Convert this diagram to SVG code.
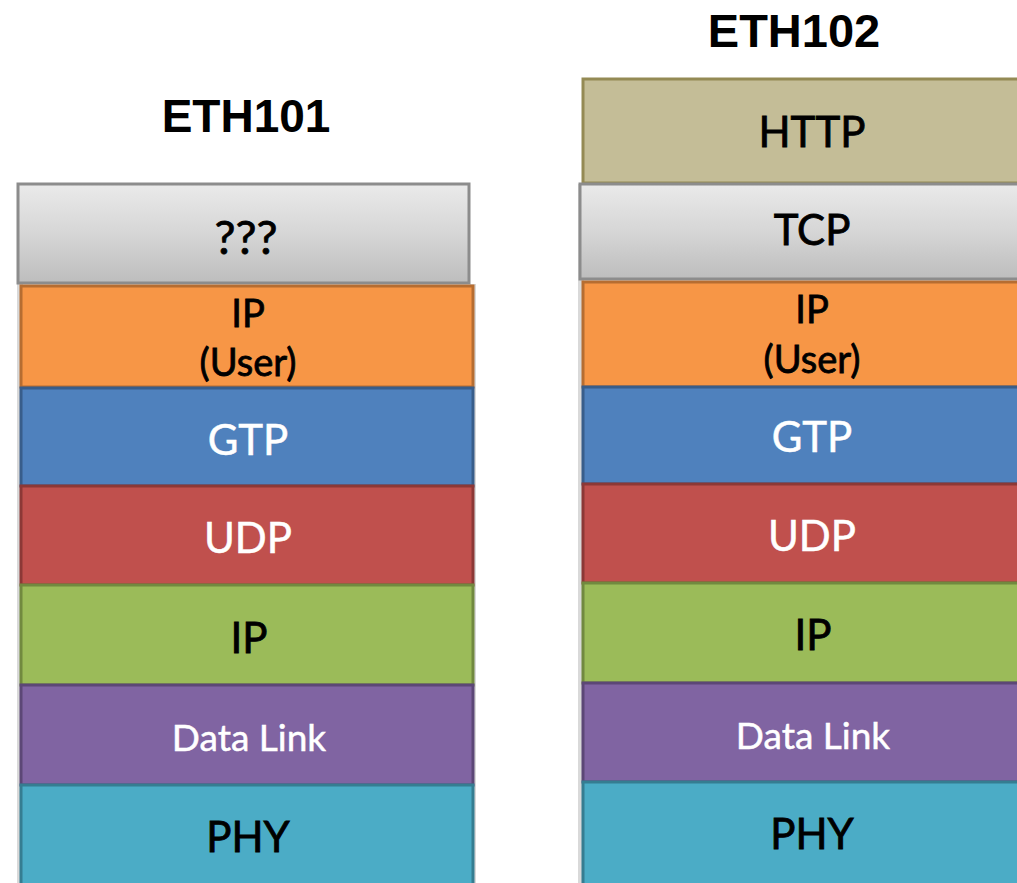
<svg xmlns="http://www.w3.org/2000/svg" width="1017" height="883" viewBox="0 0 1017 883">
  <style>
    .title { font-family: "Liberation Sans", Arial, sans-serif; font-weight: bold; font-size: 46px; fill: #000; text-anchor: middle; }
    .lbl { font-family: Lato, "Open Sans", sans-serif; font-size: 42px; text-anchor: middle; stroke-width: 0.8; }
    .sm { font-size: 38px; }
    .dl { font-size: 37px; }
    .q { font-size: 47px; }
    .dark { fill: #000; stroke: #000; }
    .light { fill: #fff; stroke: #fff; stroke-width: 0.5; }
    .layer { stroke-width: 3; }
    .gray { fill: url(#grayGrad); stroke: #8c8c8c; }
    .http { fill: #C4BD97; stroke: #948A54; }
    .orange { fill: #F79646; stroke: #B66D31; }
    .blue { fill: #4F81BD; stroke: #385D8A; }
    .red { fill: #C0504D; stroke: #8C3836; }
    .green { fill: #9BBB59; stroke: #71893F; }
    .purple { fill: #8064A2; stroke: #5C4776; }
    .teal { fill: #4BACC6; stroke: #357D91; }
  </style>
  <defs>
    <linearGradient id="grayGrad" x1="0" y1="0" x2="0" y2="1">
      <stop offset="0" stop-color="#EAEAEA"/>
      <stop offset="0.5" stop-color="#D6D6D6"/>
      <stop offset="1" stop-color="#BDBDBD"/>
    </linearGradient>
  </defs>
  <rect width="1017" height="883" fill="#fff"/>

  <!-- Left protocol stack -->
  <g id="eth101">
    <text class="title" x="246" y="132">ETH101</text>
    <rect x="17" y="184" width="6" height="700" fill="#d9d9d9"/>
    <rect x="470" y="284" width="6" height="600" fill="#d9d9d9"/>
    <g id="eth101-unknown">
      <rect class="layer gray" x="18" y="184" width="451" height="99"/>
      <text class="lbl q dark" x="246" y="254">???</text>
    </g>
    <g id="eth101-ip-user">
      <rect class="layer orange" x="21" y="286" width="452" height="101"/>
      <text class="lbl sm dark" x="248" y="327">IP</text>
      <text class="lbl sm dark" x="248" y="376">(User)</text>
    </g>
    <g id="eth101-gtp">
      <rect class="layer blue" x="21" y="388" width="452" height="98"/>
      <text class="lbl light" x="248" y="455">GTP</text>
    </g>
    <g id="eth101-udp">
      <rect class="layer red" x="21" y="486" width="452" height="99"/>
      <text class="lbl light" x="248" y="553">UDP</text>
    </g>
    <g id="eth101-ip">
      <rect class="layer green" x="21" y="585" width="452" height="100"/>
      <text class="lbl dark" x="249" y="653">IP</text>
    </g>
    <g id="eth101-datalink">
      <rect class="layer purple" x="21" y="685" width="452" height="100"/>
      <text class="lbl dl light" x="249" y="751">Data Link</text>
    </g>
    <g id="eth101-phy">
      <rect class="layer teal" x="21" y="785" width="452" height="101"/>
      <text class="lbl dark" x="248" y="852">PHY</text>
    </g>
  </g>

  <!-- Right protocol stack -->
  <g id="eth102">
    <text class="title" x="794" y="47" style="font-size:47px">ETH102</text>
    <rect x="578" y="184" width="6" height="700" fill="#d9d9d9"/>
    <g id="eth102-http">
      <rect class="layer http" x="583" y="79" width="460" height="104"/>
      <text class="lbl dark" x="812" y="147">HTTP</text>
    </g>
    <g id="eth102-tcp">
      <rect class="layer gray" x="580" y="184" width="463" height="95"/>
      <text class="lbl dark" x="812" y="245">TCP</text>
    </g>
    <g id="eth102-ip-user">
      <rect class="layer orange" x="583" y="282" width="460" height="105"/>
      <text class="lbl sm dark" x="812" y="323">IP</text>
      <text class="lbl sm dark" x="812" y="373">(User)</text>
    </g>
    <g id="eth102-gtp">
      <rect class="layer blue" x="583" y="387" width="460" height="97"/>
      <text class="lbl light" x="812" y="452">GTP</text>
    </g>
    <g id="eth102-udp">
      <rect class="layer red" x="583" y="484" width="460" height="99"/>
      <text class="lbl light" x="812" y="551">UDP</text>
    </g>
    <g id="eth102-ip">
      <rect class="layer green" x="583" y="583" width="460" height="100"/>
      <text class="lbl dark" x="813" y="650">IP</text>
    </g>
    <g id="eth102-datalink">
      <rect class="layer purple" x="583" y="683" width="460" height="99"/>
      <text class="lbl dl light" x="813" y="749">Data Link</text>
    </g>
    <g id="eth102-phy">
      <rect class="layer teal" x="583" y="782" width="460" height="104"/>
      <text class="lbl dark" x="812" y="849">PHY</text>
    </g>
  </g>

  <!-- No connectors in this figure -->
  <g id="connectors"/>
</svg>
